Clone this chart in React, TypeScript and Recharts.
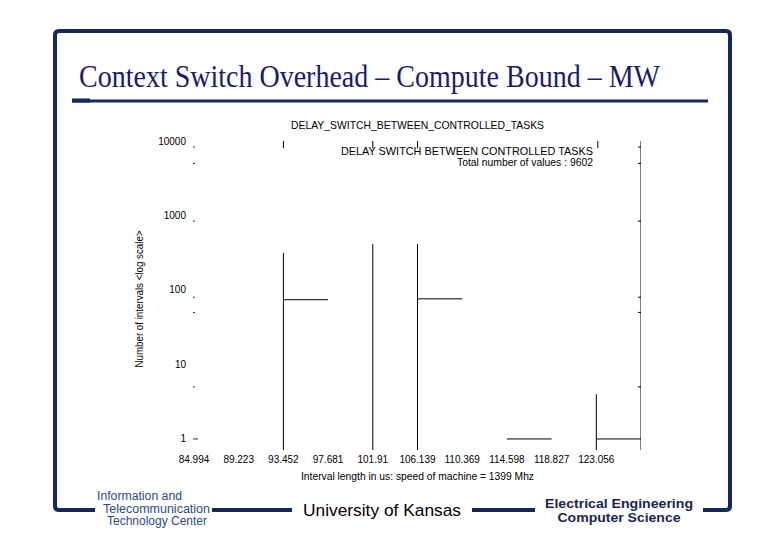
import React from "react";
import { LineChart, Line, XAxis, YAxis } from "recharts";

// x tick labels (interval length in us) and the log-scale y ticks
const xTicks = [84.994, 89.223, 93.452, 97.681, 101.91, 106.139, 110.369, 114.598, 118.827, 123.056];
const yMajor = [1, 10, 100, 1000, 10000];
const yMinor = [8300, 5000, 840, 80, 50, 5, 1];

// histogram strokes
const riseX = [93.452, 101.91, 106.139, 123.056];
const riseTop = [314, 414, 414, 4];
const stepFrom = [93.452, 106.139, 114.598, 123.056];
const stepTo = [97.681, 110.369, 118.827, 127.285];
const stepLevel = [74, 76, 1, 1];
const capX = [93.452, 101.91, 106.139, 123.2];

const xDomain: [number, number] = [84.994, 127.285];
const yDomain: [number, number] = [0.711, 10000];
const yFloor = yDomain[0];

const NAVY = "#14285a";
const SANS = "'Liberation Sans', Arial, sans-serif";

const segments: { x: number; y: number }[][] = [
  ...riseX.map((x, i) => [
    { x, y: yFloor },
    { x, y: riseTop[i] },
  ]),
  ...stepFrom.map((x, i) => [
    { x, y: stepLevel[i] },
    { x: stepTo[i], y: stepLevel[i] },
  ]),
  ...capX.map((x) => [
    { x, y: 8000 },
    { x, y: 10000 },
  ]),
];

// right border of the plot, bound to the right axis so that axis gets drawn
const rightEdge = [
  { x: xDomain[1], y: yFloor },
  { x: xDomain[1], y: yDomain[1] },
];

const LeftTick = (props: any) => {
  const { x, y, payload } = props;
  const v = payload.value;
  return (
    <g>
      {yMajor.includes(v) && (
        <text x={x} y={y} dy="0.35em" textAnchor="end" fontSize={10} fontFamily={SANS} fill="#000">
          {v}
        </text>
      )}
      {yMinor.includes(v) && (
        <line x1={x + 7} x2={v === 1 ? x + 12 : x + 9} y1={y} y2={y} stroke="#333" strokeWidth={1} />
      )}
    </g>
  );
};

const RightTick = (props: any) => {
  const { y, payload } = props;
  if (payload.value === 1) return <g />;
  return <line x1={638} x2={641} y1={y} y2={y} stroke="#000" strokeWidth={1} />;
};

export default function App() {
  const allLeft = Array.from(new Set([...yMajor, ...yMinor])).sort((a, b) => a - b);
  return (
    <div style={{ position: "absolute", left: 0, top: 0, width: 780, height: 540, background: "#fff" }}>
      <svg width={780} height={540} style={{ position: "absolute", left: 0, top: 0 }}>
        <path
          d="M95 510 H59 Q55 510 55 506 V35 Q55 31 59 31 H726 Q730 31 730 35 V506 Q730 510 726 510 H703"
          fill="none"
          stroke={NAVY}
          strokeWidth={4}
        />
        <line x1={212} x2={292} y1={510} y2={510} stroke={NAVY} strokeWidth={4} />
        <line x1={472} x2={535} y1={510} y2={510} stroke={NAVY} strokeWidth={4} />
        <text
          x={79}
          y={87}
          fontSize={32}
          fontFamily="'Liberation Serif', 'Times New Roman', serif"
          fill="#1a1a6e"
          textLength={581}
          lengthAdjust="spacingAndGlyphs"
        >
          Context Switch Overhead – Compute Bound – MW
        </text>
        <line x1={72} x2={708} y1={101} y2={101} stroke={NAVY} strokeWidth={3} />
        <line x1={72} x2={90} y1={100.5} y2={100.5} stroke={NAVY} strokeWidth={4} />

        <text x={417.5} y={129} fontSize={11} fontFamily={SANS} textAnchor="middle" textLength={253} lengthAdjust="spacingAndGlyphs">
          DELAY_SWITCH_BETWEEN_CONTROLLED_TASKS
        </text>
        <text x={593} y={155} fontSize={11} fontFamily={SANS} textAnchor="end" textLength={252} lengthAdjust="spacingAndGlyphs">
          DELAY SWITCH BETWEEN CONTROLLED TASKS
        </text>
        <text x={593} y={166} fontSize={10} fontFamily={SANS} textAnchor="end" textLength={136} lengthAdjust="spacingAndGlyphs">
          Total number of values : 9602
        </text>
        <text x={417.5} y={480} fontSize={10} fontFamily={SANS} textAnchor="middle" textLength={233} lengthAdjust="spacingAndGlyphs">
          Interval length in us: speed of machine = 1399 Mhz
        </text>
        <text
          x={0}
          y={0}
          fontSize={10}
          fontFamily={SANS}
          textAnchor="middle"
          textLength={137}
          lengthAdjust="spacingAndGlyphs"
          transform="translate(143 299) rotate(-90)"
        >
          Number of intervals &lt;log scale&gt;
        </text>

        <g fontFamily={SANS} fill="#2b4a8c" fontSize={12}>
          <text x={97} y={500} textLength={85} lengthAdjust="spacingAndGlyphs">Information and</text>
          <text x={103} y={512.5} textLength={107} lengthAdjust="spacingAndGlyphs">Telecommunication</text>
          <text x={107} y={525} textLength={100} lengthAdjust="spacingAndGlyphs">Technology Center</text>
        </g>
        <text x={382} y={516} fontSize={17} fontFamily={SANS} textAnchor="middle" fill="#000" textLength={158} lengthAdjust="spacingAndGlyphs">
          University of Kansas
        </text>
        <g fontFamily={SANS} fontWeight="bold" fill="#1a2550" fontSize={13} textAnchor="middle">
          <text x={619} y={507.5} textLength={148} lengthAdjust="spacingAndGlyphs">Electrical Engineering</text>
          <text x={619} y={522} textLength={123} lengthAdjust="spacingAndGlyphs">Computer Science</text>
        </g>
      </svg>

      <div style={{ position: "absolute", left: 0, top: 0 }}>
        <LineChart width={780} height={540} margin={{ top: 141, right: 138, bottom: 60, left: 134 }}>
          <XAxis
            dataKey="x"
            type="number"
            domain={xDomain}
            ticks={xTicks}
            interval={0}
            allowDataOverflow
            axisLine={false}
            tickLine={false}
            tickSize={0}
            tickMargin={6}
            height={30}
            tick={{ fontSize: 10, fill: "#000", fontFamily: SANS }}
          />
          <YAxis
            yAxisId="y"
            type="number"
            scale="log"
            domain={yDomain}
            ticks={allLeft}
            interval={0}
            allowDataOverflow
            width={60}
            axisLine={false}
            tickLine={false}
            tickSize={0}
            tickMargin={8}
            tick={<LeftTick />}
          />
          <YAxis
            yAxisId="r"
            orientation="right"
            type="number"
            scale="log"
            domain={yDomain}
            ticks={yMinor}
            interval={0}
            allowDataOverflow
            width={1}
            axisLine={false}
            tickLine={false}
            tick={<RightTick />}
          />
          {segments.map((seg, i) => (
            <Line
              key={i}
              yAxisId="y"
              data={seg}
              dataKey="y"
              type="linear"
              stroke="#000"
              strokeWidth={1}
              dot={false}
              activeDot={false}
              isAnimationActive={false}
            />
          ))}
          <Line
            yAxisId="r"
            data={rightEdge}
            dataKey="y"
            type="linear"
            stroke="#000"
            strokeWidth={1}
            dot={false}
            activeDot={false}
            isAnimationActive={false}
          />
        </LineChart>
      </div>
    </div>
  );
}
